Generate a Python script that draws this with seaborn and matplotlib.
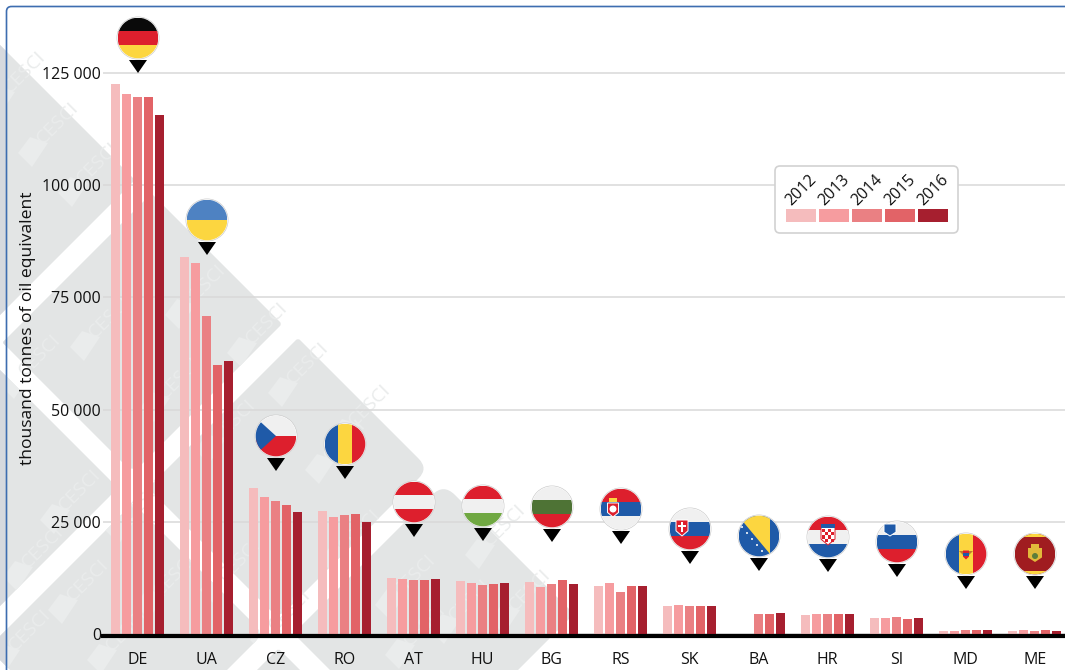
import numpy as np
import pandas as pd
import seaborn as sns
import matplotlib
matplotlib.use('Agg')
import matplotlib.pyplot as plt
from matplotlib.path import Path
from matplotlib.patches import PathPatch, Circle, Rectangle, Polygon, FancyBboxPatch

# dati
paesi = ['DE', 'UA', 'CZ', 'RO', 'AT', 'HU', 'BG', 'RS', 'SK', 'BA', 'HR', 'SI', 'MD', 'ME']
anni = ['2012', '2013', '2014', '2015', '2016']
v2012 = [122550, 84000, 32460, 27400, 12400, 11730, 11660, 10700, 6160, np.nan, 4230, 3640, 700, 740]
v2013 = [120400, 82660, 30460, 26070, 12250, 11360, 10550, 11290, 6390, np.nan, 4460, 3640, 750, 890]
v2014 = [119700, 70850, 29630, 26500, 12030, 10920, 11210, 9360, 6240, 4380, 4380, 3790, 820, 740]
v2015 = [119600, 59940, 28680, 26670, 11960, 11140, 11960, 10700, 6310, 4380, 4460, 3420, 820, 820]
v2016 = [115640, 60830, 27120, 25020, 12330, 11290, 11140, 10620, 6160, 4750, 4380, 3560, 960, 670]
valori_tick = [0, 25000, 50000, 75000, 100000, 125000]
etichette_tick = ['0', '25 000', '50 000', '75 000', '100 000', '125 000']
colori = ['#f5bcbd', '#f69c9f', '#ea8083', '#e26367', '#a61f2f']

sns.set_theme(style='white')
plt.rcParams['font.family'] = ['Open Sans', 'DejaVu Sans']
testo = '#111111'

W, H = 1065, 670
fig = plt.figure(figsize=(W / 100, H / 100), dpi=100, facecolor='white')

# sfondo in coordinate pixel
bg = fig.add_axes([0, 0, 1, 1], zorder=0)
bg.set_xlim(0, W)
bg.set_ylim(H, 0)
bg.axis('off')


def rombo(u0, u1, v0, v1, raggi):
    # rombo definito sulle diagonali x+y e x-y, con angoli arrotondati
    ang = [(u0, v1), (u1, v1), (u1, v0), (u0, v0)]
    pts = np.array([((u + v) / 2, (u - v) / 2) for u, v in ang])
    vert, cod = [], []
    for i in range(4):
        p, a, b = pts[i], pts[i - 1], pts[(i + 1) % 4]
        r = raggi[i]
        d1 = p + (a - p) / np.linalg.norm(a - p) * r
        d2 = p + (b - p) / np.linalg.norm(b - p) * r
        vert += [d1, p, d2]
        cod += [Path.MOVETO if i == 0 else Path.LINETO, Path.CURVE3, Path.CURVE3]
    vert.append(vert[0])
    cod.append(Path.CLOSEPOLY)
    return vert, cod


celle = [
    (24, 315, -340, -45, (2, 2, 2, 2)),
    (345, 606, -340, -42, (2, 3, 12, 2)),
    (636, 897, -340, -40, (3, 14, 12, 2)),
    (927, 1188, -340, -40, (16, 6, 2, 2)),
    (345, 606, -660, -370, (3, 12, 2, 2)),
    (636, 897, -660, -370, (3, 12, 2, 2)),
    (927, 1188, -660, -370, (3, 3, 2, 2)),
]
vv, cc = [], []
for u0, u1, v0, v1, rr in celle:
    a, b = rombo(u0, u1, v0, v1, rr)
    vv += a
    cc += b
forma = PathPatch(Path(vv, cc), fc='#e3e5e5', ec='none', zorder=1)
bg.add_patch(forma)

# filigrana
filigrana = [(58, 123), (98, 163), (25, 72), (110, 317), (267, 323), (205, 285),
             (308, 363), (235, 420), (43, 547), (88, 580), (127, 630), (80, 490),
             (40, 355), (180, 378), (345, 440), (370, 405), (240, 560), (360, 530),
             (415, 575), (505, 525), (470, 600), (290, 610), (145, 500), (175, 575),
             (30, 630), (425, 625), (530, 590)]
for fx, fy in filigrana:
    t = bg.text(fx, fy, 'CESCI', rotation=45, fontsize=14, color='#eaecec',
                ha='center', va='center', zorder=2, clip_on=True)
    t.set_clip_path(forma)
    lg = Polygon([(fx - 26, fy + 44), (fx - 40, fy + 30), (fx - 28, fy + 14), (fx - 10, fy + 20)],
                 fc='#eaecec', ec='none', zorder=2)
    bg.add_patch(lg)
    lg.set_clip_path(forma)

striscia = Rectangle((0, 0), 5.5, H, fc='#d6d9de', ec='none', zorder=3)
bg.add_patch(striscia)
striscia.set_clip_path(forma)
bg.add_patch(FancyBboxPatch((6.5, 6.5), 1200, 800, boxstyle='round,pad=0,rounding_size=5',
                            fc='none', ec='#3d6db0', lw=1.2, zorder=4))

# grafico
sx, dx, base = 103.0, 1065.0, 634.0
ax = fig.add_axes([sx / W, (H - base) / H, (dx - sx) / W, base / H], zorder=1)
ax.patch.set_alpha(0)
tabella = pd.DataFrame({'paese': paesi, '2012': v2012, '2013': v2013, '2014': v2014,
                        '2015': v2015, '2016': v2016})
lungo = tabella.melt(id_vars='paese', var_name='anno', value_name='valore')
ax.grid(False)
ax.set_axisbelow(True)
ax.yaxis.grid(True, color='#d9d9d9', lw=1.1)
sns.barplot(data=lungo, x='paese', y='valore', hue='anno', hue_order=anni, palette=colori,
            width=0.8, gap=0.15, saturation=1, linewidth=0, legend=False, ax=ax, zorder=3)
ax.set_xlim(-0.5, 13.44)
ax.set_ylim(0, 125000 * base / 561)
ax.set_yticks(valori_tick, etichette_tick)
ax.set_xlabel('')
ax.set_ylabel('thousand tonnes of oil equivalent', fontsize=12.6, color=testo)
ax.yaxis.set_label_coords(-0.0696, 1 - 328.5 / base)
ax.tick_params(axis='y', length=0, pad=1.5, labelsize=11.5, labelcolor=testo)
ax.tick_params(axis='x', length=0, pad=11.5, labelsize=11.5, labelcolor=testo)
sns.despine(ax=ax, left=True, top=True, right=True)
ax.spines['bottom'].set_color('black')
ax.spines['bottom'].set_linewidth(3)
ax.spines['bottom'].set_position(('outward', 1.5))
ax.spines['bottom'].set_zorder(5)

# bandiere e legenda in coordinate pixel
top = fig.add_axes([0, 0, 1, 1], zorder=2)
top.set_xlim(0, W)
top.set_ylim(H, 0)
top.axis('off')

ROSSO, BIANCO, BLU, GIALLO = '#dd1f2d', '#f0f0f0', '#1f5aa8', '#fcd640'
strisce = {
    'DE': ('h', ['#0a0a0a', ROSSO, GIALLO]),
    'UA': ('h', ['#4e82c2', GIALLO]),
    'CZ': ('h', [BIANCO, ROSSO]),
    'RO': ('v', [BLU, GIALLO, ROSSO]),
    'AT': ('h', [ROSSO, BIANCO, ROSSO]),
    'HU': ('h', [ROSSO, BIANCO, '#70a842']),
    'BG': ('h', [BIANCO, '#4e7335', ROSSO]),
    'RS': ('h', [ROSSO, BLU, BIANCO]),
    'SK': ('h', [BIANCO, BLU, ROSSO]),
    'BA': ('h', [BLU]),
    'HR': ('h', [ROSSO, BIANCO, BLU]),
    'SI': ('h', [BIANCO, BLU, ROSSO]),
    'MD': ('v', [BLU, GIALLO, ROSSO]),
    'ME': ('h', ['#a01c20']),
}
centri_y = [38, 220, 436, 444, 502, 506, 507, 509, 529, 536, 537, 542, 554, 554]
R = 20.3


def scudo(cx, cy, w, h, fc, ec='none'):
    top.add_patch(Polygon([(cx - w, cy - h), (cx + w, cy - h), (cx + w, cy + h * 0.35),
                           (cx, cy + h), (cx - w, cy + h * 0.35)], fc=fc, ec=ec, lw=0.7, zorder=7))


for i, p in enumerate(paesi):
    cx, cy = 138 + 69 * i, centri_y[i]
    top.add_patch(Circle((cx, cy), R + 0.8, fc='white', ec='#cccccc', lw=0.5, zorder=5))
    cerchio = Circle((cx, cy), R, fc='none', ec='none', zorder=6)
    top.add_patch(cerchio)
    verso, col = strisce[p]
    n = len(col)
    for j, c in enumerate(col):
        if verso == 'h':
            r = Rectangle((cx - R, cy - R + 2 * R * j / n), 2 * R, 2 * R / n + 0.3, fc=c, ec='none', zorder=6)
        else:
            r = Rectangle((cx - R + 2 * R * j / n, cy - R), 2 * R / n + 0.3, 2 * R, fc=c, ec='none', zorder=6)
        top.add_patch(r)
        r.set_clip_path(cerchio)
    extra = []
    if p == 'CZ':
        extra.append(Polygon([(cx - R - 2, cy - R), (cx, cy), (cx - R - 2, cy + R)], fc=BLU, ec='none', zorder=6))
    if p == 'BA':
        extra.append(Polygon([(cx - 19, cy - 18), (cx + 11, cy + 18), (cx + 11, cy - 22), (cx - 19, cy - 22)],
                             fc=GIALLO, ec='none', zorder=6))
        extra += [Circle((cx - 17 + 5 * k, cy - 9 + 6 * k), 1.0, fc='white', ec='none', zorder=7) for k in range(6)]
    if p == 'ME':
        extra.append(Rectangle((cx - R, cy - R), 2 * R, 3, fc=GIALLO, ec='none', zorder=7))
        extra.append(Rectangle((cx - R, cy + R - 3), 2 * R, 3, fc=GIALLO, ec='none', zorder=7))
    for e in extra:
        top.add_patch(e)
        e.set_clip_path(cerchio)
    if p == 'RS':
        scudo(cx - 8, cy + 1, 5.5, 7, ROSSO, 'white')
        top.add_patch(Circle((cx - 8, cy), 3.5, fc='white', ec='none', zorder=8))
        top.add_patch(Rectangle((cx - 12, cy - 11), 8, 3.5, fc=GIALLO, ec='none', zorder=7))
    if p == 'SK':
        scudo(cx - 8, cy - 1, 6, 8, ROSSO, 'white')
        top.add_patch(Rectangle((cx - 9, cy - 7), 2, 10, fc='white', ec='none', zorder=8))
        top.add_patch(Rectangle((cx - 12, cy - 4), 8, 2, fc='white', ec='none', zorder=8))
    if p == 'HR':
        scudo(cx, cy - 1, 7, 9, 'white', ROSSO)
        for a in range(4):
            for b in range(4):
                if (a + b) % 2 == 0:
                    top.add_patch(Rectangle((cx - 6 + 3 * a, cy - 8 + 3.2 * b), 3, 3.2, fc=ROSSO, ec='none', zorder=8))
        top.add_patch(Rectangle((cx - 7, cy - 13), 14, 4, fc=BLU, ec='none', zorder=8))
    if p == 'SI':
        scudo(cx - 7, cy - 12, 6, 6, BLU, 'white')
    if p == 'MD':
        top.add_patch(Polygon([(cx - 7, cy - 3), (cx + 7, cy - 3), (cx + 3, cy + 1), (cx - 3, cy + 1)],
                              fc='#c07a2c', ec='none', zorder=7))
        scudo(cx, cy + 1, 3, 4.5, ROSSO)
        top.add_patch(Rectangle((cx - 3, cy - 1), 6, 2.5, fc=BLU, ec='none', zorder=8))
    if p == 'ME':
        scudo(cx, cy + 1, 7, 7, '#e2b93b')
        top.add_patch(Rectangle((cx - 4, cy - 10), 8, 4, fc='#e2b93b', ec='none', zorder=7))
        top.add_patch(Circle((cx, cy + 2), 3, fc='#5d7d3a', ec='none', zorder=8))
    # freccia sotto la bandiera
    top.add_patch(Polygon([(cx - 9, cy + 22), (cx + 9, cy + 22), (cx, cy + 35)], fc='black', ec='none', zorder=6))

# legenda
top.add_patch(FancyBboxPatch((775, 166), 183, 67, boxstyle='round,pad=0,rounding_size=5',
                             fc='white', ec='#d2d2d2', lw=1.2, zorder=5))
for i, a in enumerate(anni):
    lx = 786 + 33 * i
    top.add_patch(Rectangle((lx, 209), 30, 13, fc=colori[i], ec='none', zorder=6))
    top.text(lx + 15, 190.5, a, rotation=45, fontsize=11.5, color=testo, ha='center', va='center', zorder=6)

fig.savefig('out.png', dpi=100)
